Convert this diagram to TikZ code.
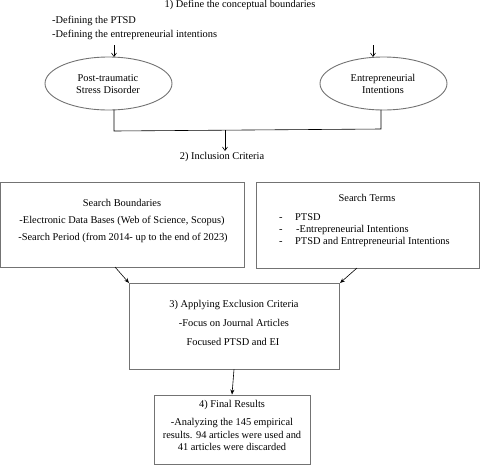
\documentclass[tikz,border=0pt]{standalone}
\usepackage{fontspec}
\setmainfont{Liberation Serif}
\usetikzlibrary{arrows.meta,shapes.geometric}
\begin{document}
\begin{tikzpicture}[x=1pt,y=-1pt,
  txt/.style={inner sep=0pt,font=\fontsize{10.4}{12}\selectfont},
  boxline/.style={draw=black!55,line width=0.9pt},
  conn/.style={draw=black,line width=0.6pt},
  arr/.style={conn,-{Stealth[length=5pt,width=4pt]}},
  barb/.style={conn,-{Straight Barb[length=3.5pt,width=5pt]}}]
\useasboundingbox (0,0) rectangle (483,467);
% top texts
\node[txt] (t1) at (240,5) {1) Define the conceptual boundaries};
\node[txt,anchor=west] (d1) at (52,21) {-Defining the PTSD};
\node[txt,anchor=west] (d2) at (52,35) {-Defining the entrepreneurial intentions};
% ellipses
\node[boxline,ellipse,minimum width=127pt,minimum height=53pt,inner sep=0pt] (e1) at (108.5,83.5) {};
\node[txt,align=center] (e1t) at (108,84) {Post-traumatic\\Stress Disorder};
\node[boxline,ellipse,minimum width=127pt,minimum height=53pt,inner sep=0pt] (e2) at (383.5,83.5) {};
\node[txt,align=center] (e2t) at (383,84) {Entrepreneurial\\Intentions};
\coordinate (a1s) at (114,45);
\coordinate (a1e) at (114,57);
\coordinate (a2s) at (373,45);
\coordinate (a2e) at (373,57);
\draw[barb] (a1s) -- (a1e);
\draw[barb] (a2s) -- (a2e);
% joining line
\coordinate (j1) at (114,109.5);
\coordinate (j2) at (114,131);
\coordinate (j3) at (381,129);
\coordinate (j4) at (381,109.5);
\coordinate (m1) at (225,130);
\coordinate (m2) at (225,151);
\draw[conn] (j1) -- (j2) -- (j3) -- (j4);
\draw[barb] (m1) -- (m2);
\node[txt] (inc) at (222,157) {2) Inclusion Criteria};
% boxes
\node[boxline,minimum width=244pt,minimum height=85pt,inner sep=0pt] (sb) at (122.5,224.5) {};
\node[txt] at (122,203) {Search Boundaries};
\node[txt] at (122,221) {-Electronic Data Bases (Web of Science, Scopus)};
\node[txt] at (123,238) {-Search Period (from 2014- up to the end of 2023)};
\node[boxline,minimum width=223pt,minimum height=86pt,inner sep=0pt] (st) at (367.5,225) {};
\node[txt] at (367,198) {Search Terms};
\node[txt,anchor=base west] at (279,220.5) {-};
\node[txt,anchor=base west] at (279,232.5) {-};
\node[txt,anchor=base west] at (279,244.5) {-};
\node[txt,anchor=base west] at (295,220.5) {PTSD};
\node[txt,anchor=base west] at (296,232.5) {-Entrepreneurial Intentions};
\node[txt,anchor=base west] at (295,244.5) {PTSD and Entrepreneurial Intentions};
\node[boxline,minimum width=210pt,minimum height=86pt,inner sep=0pt] (ex) at (234,326) {};
\node[txt] at (234,305) {3) Applying Exclusion Criteria};
\node[txt] at (234,323) {-Focus on Journal Articles};
\node[txt] at (233,342) {Focused PTSD and EI};
\node[boxline,minimum width=156pt,minimum height=69pt,inner sep=0pt] (fr) at (232,429.5) {};
\node[txt] at (232,405) {4) Final Results};
\node[txt] at (232,423) {-Analyzing the 145 empirical};
\node[txt] at (232,435) {results. 94 articles were used and};
\node[txt] at (232,447) {41 articles were discarded};
% arrows between boxes
\coordinate (s1) at (115,267);
\coordinate (s2) at (129,283);
\coordinate (r1) at (357,268);
\coordinate (r2) at (340,283);
\draw[arr] (s1) -- (s2);
\draw[arr] (r1) -- (r2);
\draw[arr] (ex.south) -- (fr.north);
\end{tikzpicture}
\end{document}
